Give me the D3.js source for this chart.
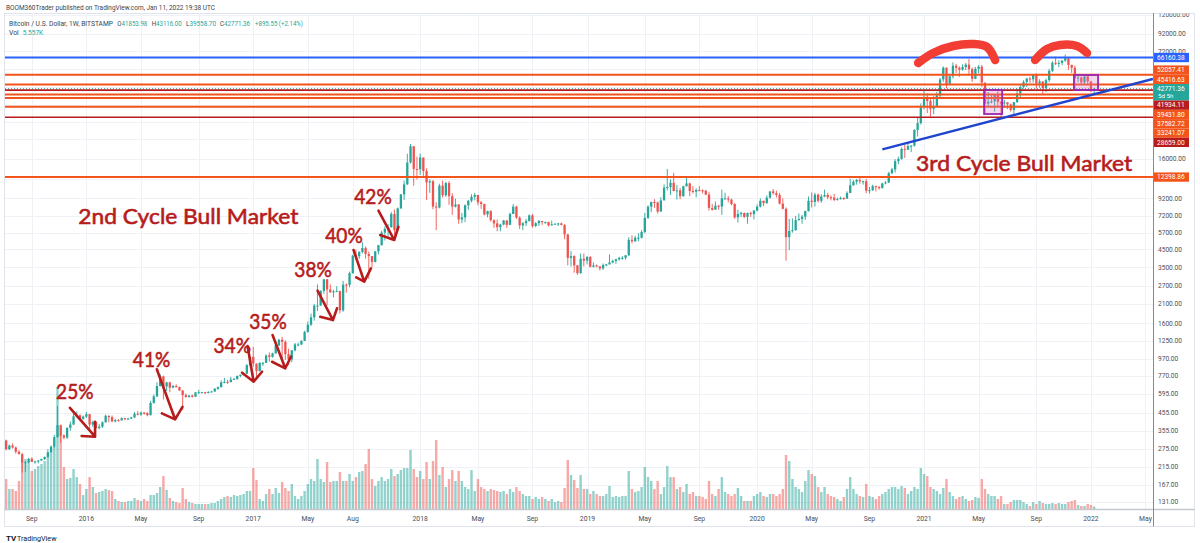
<!DOCTYPE html>
<html>
<head>
<meta charset="utf-8">
<script src="https://cdn.jsdelivr.net/npm/d3@7"></script>
<style>
  body { margin: 0; background: #fff; }
  svg { display: block; }
</style>
</head>
<body>
<div id="chart"></div>
<script>
// BTCUSD weekly (Bitstamp), weeks start on Monday 2015-07-13; open = previous close
const firstWeek = '2015-07-13'
const firstOpen = 310

const closes = [
  // 2015
  274,289,281,265,256,228,229,240,230,231,234,239,246,263,284,325,384,333,323,370,388,435,441,420,433,
  // 2016
  448,387,402,369, 376,400,438,430,405, 412,411,424,420, 421,428,451,445, 458,456,442,525,575, 665,760,660,700,
  650,665,655,625, 585,570,582,572,608, 609,610,603,612, 616,640,655,700,705, 702,728,734,765, 778,790,890,1000,
  // 2017
  910,820,920,920,1020, 1000,1050,1175,1270, 1235,1040,965,1095, 1190,1190,1250,1420, 1570,1740,2050,2050,2520,
  2960,2570,2470,2500, 2510,1920,2750,2740,3230, 4130,4090,4340,4590, 4220,4100,3780,4380, 4780,5700,6000,6150,7400,
  5900,8000,9730,11200, 15200,19100,13900,13850,
  // 2018
  16300,13500,11500,11700,8200, 8100,11000,9600,11400, 9500,8200,8450,6850, 7050,8350,8900,9400,9650, 8700,8500,7350,7700,
  6780,6480,6150,6380, 6750,6350,7400,8200,7030, 6300,6500,6700,7250, 6250,6500,6700,6600, 6600,6300,6400,6450,6480,
  6350,5550,4000,4100, 3600,3230,3950,3850,4050,
  // 2019
  3530,3600,3550,3450, 3620,3650,3750,3830, 3920,4000,4000,4150, 5150,5050,5300,5300,5750, 7000,8200,8750,8700,
  7650,8950,10700,10800, 11450,10200,10300,9500,10900, 11350,10200,10100,10350, 10300,10250,9700,8050,7850,
  8300,8200,9200,9200, 9050,8500,7050,7400, 7500,7100,7500,7400,7760,
  // 2020
  8190,8900,8600,9300, 10150,9900,9650,8550, 7950,5350,5830,5900,6780, 6900,7120,7700,8900, 8750,9700,8900,9450,
  9650,9350,9300,9000,9100, 9250,9170,9930,11050, 11600,11900,11700,11700,10250, 10330,10920,10770,10650,
  11350,11500,13100,13800, 15500,16000,18400,18200,19150, 19250,24000,26400,33000,
  // 2021
  38150,36000,32250,33100, 38900,48700,57400,45200, 50900,59000,57300,55800,57900, 59900,56200,49100,56500,
  58200,46500,34700,35600,35800, 39100,35600,34700,35300, 34300,31800,35400,39900, 43800,47000,49300,48800,51800,
  46000,47300,43200,48200, 54900,61500,60900,61300, 63300,65500,59700,57300,49400, 50100,46700,50800,47300,
  // 2022
  41853.98, 42771.36
]

const highs = [
  // 2015
  314,293,298,285,270,261,232,243,245,234,236,240,248,274,290,335,502,387,338,372,404,465,466,447,440,
  // 2016
  462,450,410,405, 390,405,445,440,440, 420,418,428,424, 425,432,462,468, 465,462,460,540,590, 700,785,770,705,
  705,675,680,660, 625,600,585,590,612, 630,612,612,618, 620,645,660,720,745, 725,755,745,770, 780,795,905,1000,
  // 2017
  1150,910,925,930,1035, 1065,1060,1180,1290, 1325,1260,1120,1100, 1215,1220,1265,1440, 1640,1830,2100,2760,2540,
  2980,2980,2760,2560, 2690,2530,2900,2800,3300, 4180,4480,4400,4980, 4700,4380,4100,4400, 4800,5850,6200,6420,7600,
  7880,8100,9800,11800, 17200,19700,19000,16500,
  // 2018
  17200,16300,14000,12000,11900, 8700,11300,11800,11600, 11700,9900,9170,8500, 7500,8450,9000,9750,9950, 9650,8880,8550,7750,
  7800,6850,6850,6450, 6800,6800,7550,8500,8300, 7150,6600,6900,7350, 7400,6600,6800,6700, 6650,6650,6750,6500,6520,
  6550,6400,5600,4400, 4150,3620,4250,4250,4100,
  // 2019
  4100,3750,3650,3560, 3700,3680,4200,3900, 3950,4060,4100,4150, 5340,5480,5450,5650,5900, 7500,8350,8800,9100,
  8800,9350,11200,13880, 12000,13150,11100,10650,11000, 12300,11450,10950,10600, 10900,10450,10350,10050,8500,
  8800,8400,10400,9950, 9500,9150,8600,7850, 7650,7550,7550,7650,7800,
  // 2020
  8450,9200,8900,9600, 10150,10500,10250,9950, 9200,8100,6900,6950,7200, 7450,7300,7750,9450, 10000,9950,9850,9750,
  10400,9950,9600,9800,9300, 9450,9350,10150,12100, 11900,12100,12500,11800,12100, 10800,11150,10990,10950,
  11450,11720,13350,14100, 15950,16500,18800,19450,19900, 19400,24250,28400,34800,
  // 2021
  42000,40100,37800,38500, 41000,49700,58400,57500, 52600,61800,60600,58400,60100, 61300,64900,57500,58000,
  59500,59600,46600,40800,39500, 39400,41300,35700,36600, 35300,34700,35400,42600, 45300,48100,49800,50500,51900,
  52900,48800,47400,49200, 56500,62900,67000,63700, 63900,69000,66300,59200,59100, 51900,50600,51900,52100,
  // 2022
  47600, 43116
]

const lows = [
  // 2015
  270,272,277,258,255,198,199,225,229,224,225,234,236,244,262,280,322,300,315,316,355,385,428,412,414,
  // 2016
  425,360,375,365, 362,370,398,400,400, 400,405,410,412, 415,419,425,440, 438,445,435,440,520, 570,660,550,620,
  610,645,650,620, 475,565,565,565,570, 595,600,595,600, 608,612,630,650,690, 685,700,725,725, 752,770,788,880,
  // 2017
  870,750,815,880,915, 935,990,1045,1165, 980,960,890,930, 1080,1160,1180,1250, 1400,1540,1660,1900,2050,
  2420,2050,2450,2300, 2480,1840,1880,2460,2650, 3200,3900,3940,4250, 3960,2980,3510,3750, 4200,4750,5100,5400,6100,
  5500,5900,7950,9000, 11100,15000,11000,12000,
  // 2018
  12800,12600,9000,9950,7900, 5900,8000,9300,9400, 8400,7300,8100,6450, 6500,6600,7850,8700,8950, 8350,7950,7250,7050,
  6650,6100,5800,5800, 6300,6100,6350,7400,6900, 6000,5900,6250,6650, 6100,6150,6250,6350, 6450,6200,6350,6400,6250,
  6300,5200,3600,3550, 3250,3150,3200,3550,3650,
  // 2019
  3500,3500,3500,3350, 3380,3560,3650,3700, 3680,3850,3900,3900, 4100,4900,5000,5050,5250, 5650,6900,7600,8050,
  7450,7700,8950,10300, 9650,10150,9050,9100,9400, 10900,9500,9850,9350, 10150,9850,9650,7750,7750,
  7850,7850,7300,9050, 8700,8350,6900,6550, 7100,7000,6450,7100,6850,
  // 2020
  7670,8100,8250,8550, 9150,9700,9300,8450, 7900,3850,4450,5700,5850, 6750,6450,6800,7650, 8100,8200,8700,8650,
  9350,9100,8950,8850,8950, 9050,9000,9150,9900, 11000,11150,11300,11150,9900, 9850,10200,10150,10400,
  10550,11200,11400,12900, 13200,14850,15800,16200,18150, 17600,19000,21900,25900,
  // 2021
  32000,30400,28800,29900, 33450,37900,47000,43000, 45000,49300,53300,50400,55000, 55500,51500,47000,48800,
  53000,43800,30000,33400,34800, 31000,33300,28800,32700, 32100,31000,29300,35200, 37600,42800,43900,46400,46600,
  42800,43400,39600,40800, 46900,53900,59500,57800, 59400,62300,55600,53300,42000, 46700,45600,45600,45700,
  // 2022
  40600, 39558.70
]

// weekly volume, thousand BTC
const volumes = [
  // 2015
  30,20,20,18,28,48,50,48,38,40,43,45,48,52,57,62,122,75,42,30,31,40,32,25,14,
  // 2016
  20,32,22,16, 17,18,20,19,18, 10,8,7,7, 8,8,11,9, 8,10,8,14,14, 16,22,33,19,
  11,8,7,6, 21,10,7,6,5, 5,5,5,5, 6,6,8,10,12, 13,12,14,13, 14,15,18,18,
  // 2017
  41,29,10,8,15, 20,15,21,16, 27,21,18,25, 13,10,13,18, 25,30,28,50,30,
  27,47,27,28, 28,37,28,28,35, 28,32,37,38, 45,60,30,23, 28,32,28,30,40, 33,35,39,41, 41,59,40,32,
  // 2018
  38,30,47,30,48, 69,34,42,22, 30,39,28,38, 28,22,20,39,18, 30,22,20,18,
  20,19,18,17, 18,15,20,17,22, 18,15,13,13, 10,12,10,12, 10,8,10,7,8, 7,21,49,34, 29,21,34,20,20,
  // 2019
  15,18,15,13, 13,15,23,12, 13,12,13,13, 38,20,17,18,22, 42,32,28,20,
  28,15,22,43, 32,32,20,22,17, 25,15,17,13, 13,12,10,28,15, 13,20,32,17, 15,13,15,21, 13,8,8,8,13,
  // 2020
  15,17,13,12, 15,15,13,15, 20,54,48,30,22, 20,17,28,39, 35,33,22,17,
  22,15,13,12,10, 8,12,20,32, 20,15,13,12,25, 13,12,10,13, 15,17,20,22, 22,20,23,21,15, 18,22,20,41,
  // 2021
  35,33,22,20, 18,15,21,30, 17,13,10,12,13, 10,8,9,12, 11,30,20,15,13,
  13,10,13,5, 5,7,9,9, 9,7,5,3,7, 5,8,6,5, 5,6,5,6, 5,5,7,8,9, 4,3,3,5,
  // 2022
  4, 2.5
]

const yTicks = [120000, 92000, 72000, 56000, 44000, 34000, 27000, 21000, 16000, 12000, 9200, 7200, 5700,
  4500, 3500, 2700, 2100, 1600, 1250, 970, 770, 595, 455, 355, 275, 215, 167, 131]

const xTickDates = ['2015-09-07', '2016-01-04', '2016-05-02', '2016-09-05', '2017-01-02', '2017-05-01', '2017-08-07',
  '2018-01-01', '2018-05-07', '2018-09-03', '2019-01-01', '2019-05-06', '2019-09-02', '2020-01-06', '2020-05-04',
  '2020-09-07', '2021-01-04', '2021-05-03', '2021-09-06', '2022-01-03', '2022-05-02']
const xTickLabels = ['Sep', '2016', 'May', 'Sep', '2017', 'May', 'Aug', '2018', 'May', 'Sep', '2019', 'May', 'Sep',
  '2020', 'May', 'Sep', '2021', 'May', 'Sep', '2022', 'May']

// horizontal levels drawn on the chart
const levelPrices = [66160.38, 52057.41, 45416.63, 41934.11, 39431.80, 37582.72, 33241.07, 28659.00, 12398.86]
const levelKinds = ['blue', 'orange', 'orange', 'darkred', 'orange', 'orange', 'orange', 'darkred', 'orange']
const countdown = '5d 5h'

// annotations, [decimal year, price]
const trendLine = [[2020.760, 18290], [2022.376, 49030]]
const topArcs = [
  [[2020.973, 61270], [2021.063, 70480], [2021.182, 77740], [2021.301, 79950], [2021.385, 76660], [2021.433, 63900]],
  [[2021.672, 63900], [2021.743, 74530], [2021.821, 78840], [2021.922, 77740], [2021.982, 70480]]
]
const boxes = [
  [[2021.367, 41980], [2021.475, 29990]],
  [[2021.904, 51790], [2022.048, 41980]]
]
const pctLabels = ['25%', '41%', '34%', '35%', '38%', '40%', '42%']
const pctLabelPos = [[2015.827, 552], [2016.285, 871], [2016.766, 1059], [2016.979, 1476], [2017.248, 3046],
  [2017.433, 4944], [2017.606, 8468]]
// start, tip, two arms of the head
const arrows = [
  [[2015.910, 490], [2016.060, 327], [2015.980, 330], [2016.060, 403]],
  [[2016.428, 840], [2016.537, 417], [2016.458, 453], [2016.581, 497]],
  [[2016.969, 1164], [2017.005, 706], [2016.936, 801], [2017.055, 812]],
  [[2017.118, 1357], [2017.194, 852], [2017.115, 934], [2017.228, 1002]],
  [[2017.387, 2526], [2017.479, 1674], [2017.403, 1753], [2017.503, 1974]],
  [[2017.602, 4465], [2017.666, 2866], [2017.618, 3046], [2017.706, 3455]],
  [[2017.751, 7742], [2017.845, 5137], [2017.761, 5510], [2017.870, 6186]]
]
const cycleLabels = ['2nd Cycle Bull Market', '3rd Cycle Bull Market']
const cycleLabelPos = [[2015.960, 6400], [2020.961, 13550]]

const headerText = 'BOOM360Trader published on TradingView.com, Jan 11, 2022 19:38 UTC'
const symbolText = 'Bitcoin / U.S. Dollar, 1W, BITSTAMP'
const changeText = '+895.55 (+2.14%)'
const volText = '5.557K'

// ---------------------------------------------------------------
const W = 1200, H = 543
const plot = { left: 5, right: 1153, top: 13, bottom: 509 }
const UP = '#26a69a', DOWN = '#ef5350'
const LEVEL_COLORS = { blue: '#2962ff', orange: '#f2541b', darkred: '#b71c1c' }
const NOTE = '#b71c1c'

const parse = d3.utcParse('%Y-%m-%d')
const start = parse(firstWeek)
const candles = closes.map((c, i) => {
    const o = i ? closes[i - 1] : firstOpen
    return {
        date: d3.utcDay.offset(start, 7 * i), o, c,
        h: Math.max(highs[i], o, c), l: Math.min(lows[i], o, c), v: volumes[i]
    }
})
const last = candles[candles.length - 1]

const x = d3.scaleUtc().domain([Date.UTC(2016, 0, 1), Date.UTC(2022, 0, 1)]).range([85, 1090])
const y = d3.scaleLog().domain([131, 120000]).range([502, 15])
const yv = d3.scaleLinear().domain([0, d3.max(volumes)]).range([plot.bottom, plot.bottom - 122])
const yr = v => {
    const y0 = Math.floor(v), a = Date.UTC(y0, 0, 1), b = Date.UTC(y0 + 1, 0, 1)
    return new Date(a + (v - y0) * (b - a))
}
const P = d => [x(yr(d[0])), y(d[1])]

const svg = d3.select('#chart').append('svg')
    .attr('width', W).attr('height', H)
    .style('font-family', 'Roboto, "Liberation Sans", sans-serif')

svg.append('rect').attr('width', W).attr('height', H).attr('fill', '#fff')

svg.append('text').attr('x', 6).attr('y', 9.5)
    .attr('font-size', 7).attr('fill', '#3b3f4a')
    .attr('textLength', 209).attr('lengthAdjust', 'spacingAndGlyphs')
    .text(headerText)

svg.append('rect')
    .attr('x', 4.5).attr('y', 13.5).attr('width', 1190).attr('height', 513)
    .attr('fill', 'none').attr('stroke', '#e0e3eb')

const defs = svg.append('defs')
defs.append('clipPath').attr('id', 'clip').append('rect')
    .attr('x', plot.left).attr('y', plot.top)
    .attr('width', plot.right - plot.left).attr('height', plot.bottom - plot.top)
defs.append('clipPath').attr('id', 'axisclip').append('rect')
    .attr('x', plot.right).attr('y', plot.top + 0.5).attr('width', 45).attr('height', plot.bottom - plot.top)

const g = svg.append('g').attr('clip-path', 'url(#clip)')

// grid
g.selectAll('.hgrid').data(yTicks).enter().append('line').attr('class', 'hgrid')
    .attr('x1', plot.left).attr('x2', plot.right)
    .attr('y1', d => Math.round(y(d)) + 0.5).attr('y2', d => Math.round(y(d)) + 0.5)
    .attr('stroke', '#eef1f6')
g.selectAll('.vgrid').data(xTickDates).enter().append('line').attr('class', 'vgrid')
    .attr('x1', d => Math.round(x(parse(d))) + 0.5).attr('x2', d => Math.round(x(parse(d))) + 0.5)
    .attr('y1', plot.top).attr('y2', plot.bottom)
    .attr('stroke', '#eef1f6')

// volume
g.selectAll('.vol').data(candles).enter().append('rect').attr('class', 'vol')
    .attr('x', d => x(d.date) - 1.2).attr('width', 2.4)
    .attr('y', d => yv(d.v)).attr('height', d => plot.bottom - yv(d.v))
    .attr('fill', d => d.c >= d.o ? 'rgba(38,166,154,0.5)' : 'rgba(239,83,80,0.5)')

// candles
g.selectAll('.wick').data(candles).enter().append('line').attr('class', 'wick')
    .attr('x1', d => x(d.date)).attr('x2', d => x(d.date))
    .attr('y1', d => y(d.h)).attr('y2', d => y(d.l))
    .attr('stroke', d => d.c >= d.o ? UP : DOWN).attr('stroke-width', 0.9)
g.selectAll('.body').data(candles).enter().append('rect').attr('class', 'body')
    .attr('x', d => x(d.date) - 1.15).attr('width', 2.3)
    .attr('y', d => y(Math.max(d.o, d.c)))
    .attr('height', d => Math.max(1, y(Math.min(d.o, d.c)) - y(Math.max(d.o, d.c))))
    .attr('fill', d => d.c >= d.o ? UP : DOWN)

// current price line
g.append('line')
    .attr('x1', plot.left).attr('x2', plot.right)
    .attr('y1', y(last.c)).attr('y2', y(last.c))
    .attr('stroke', UP).attr('stroke-width', 1).attr('stroke-dasharray', '1,2')

// horizontal levels
g.selectAll('.level').data(levelPrices).enter().append('line').attr('class', 'level')
    .attr('x1', plot.left).attr('x2', plot.right)
    .attr('y1', d => y(d)).attr('y2', d => y(d))
    .attr('stroke', (d, i) => LEVEL_COLORS[levelKinds[i]])
    .attr('stroke-width', (d, i) => levelKinds[i] === 'darkred' ? 1.6 : 2)

// trend line
g.append('line')
    .attr('x1', P(trendLine[0])[0]).attr('y1', P(trendLine[0])[1])
    .attr('x2', P(trendLine[1])[0]).attr('y2', P(trendLine[1])[1])
    .attr('stroke', '#1f45cf').attr('stroke-width', 2.4)

// rectangles
g.selectAll('.box').data(boxes).enter().append('rect').attr('class', 'box')
    .attr('x', d => P(d[0])[0]).attr('y', d => P(d[0])[1])
    .attr('width', d => P(d[1])[0] - P(d[0])[0]).attr('height', d => P(d[1])[1] - P(d[0])[1])
    .attr('fill', 'rgba(214,120,200,0.28)').attr('stroke', '#9c27b0').attr('stroke-width', 1.8)

// tops
const arcLine = d3.line().x(d => P(d)[0]).y(d => P(d)[1]).curve(d3.curveCatmullRom)
g.selectAll('.arc').data(topArcs).enter().append('path').attr('class', 'arc')
    .attr('d', arcLine)
    .attr('fill', 'none').attr('stroke', '#f23d35').attr('stroke-width', 8.5)
    .attr('stroke-linecap', 'round')

// arrows
g.selectAll('.arrow').data(arrows).enter().append('path').attr('class', 'arrow')
    .attr('d', d => {
        const [s, t, a, b] = d.map(P)
        return `M${s}L${t}M${a}L${t}L${b}`
    })
    .attr('fill', 'none').attr('stroke', NOTE).attr('stroke-width', 2.6)
    .attr('stroke-linecap', 'round').attr('stroke-linejoin', 'round')

// percent labels
g.selectAll('.pct').data(pctLabels).enter().append('text').attr('class', 'pct')
    .attr('x', (d, i) => P(pctLabelPos[i])[0]).attr('y', (d, i) => P(pctLabelPos[i])[1])
    .attr('font-family', 'Lato, "Open Sans", sans-serif').attr('font-size', 22)
    .attr('fill', NOTE).attr('stroke', NOTE).attr('stroke-width', 0.6)
    .attr('textLength', 37.5).attr('lengthAdjust', 'spacingAndGlyphs')
    .text(d => d)

g.selectAll('.cycle').data(cycleLabels).enter().append('text').attr('class', 'cycle')
    .attr('x', (d, i) => P(cycleLabelPos[i])[0]).attr('y', (d, i) => P(cycleLabelPos[i])[1])
    .attr('font-family', 'Lato, "Open Sans", sans-serif').attr('font-size', 22)
    .attr('fill', NOTE).attr('stroke', NOTE).attr('stroke-width', 0.6)
    .attr('textLength', (d, i) => i ? 216 : 220).attr('lengthAdjust', 'spacingAndGlyphs')
    .text(d => d)

// axes frame
svg.append('line').attr('x1', 4.5).attr('x2', 1194.5).attr('y1', plot.bottom + 0.5).attr('y2', plot.bottom + 0.5)
    .attr('stroke', '#c4c7ce').attr('stroke-width', 1.6)
svg.append('line').attr('x1', plot.right + 0.5).attr('x2', plot.right + 0.5).attr('y1', plot.top).attr('y2', 526.5)
    .attr('stroke', '#868993')

// x labels
svg.selectAll('.xlab').data(xTickDates).enter().append('text').attr('class', 'xlab')
    .attr('x', d => x(parse(d))).attr('y', 520.5)
    .attr('text-anchor', 'middle').attr('font-size', 6.8).attr('fill', '#4a4e59')
    .text((d, i) => xTickLabels[i])

// price labels on the right axis, stacked around the current price label
const LH = 9.3, CUR_H = 16.5
const tags = levelPrices.map((p, i) => ({ p, color: LEVEL_COLORS[levelKinds[i]], cur: false }))
tags.push({ p: last.c, color: UP, cur: true })
tags.sort((a, b) => b.p - a.p)
const ci = tags.findIndex(t => t.cur)
tags[ci].cy = y(last.c)
tags[ci].top = tags[ci].cy - LH / 2
tags[ci].bottom = tags[ci].top + CUR_H
for (let i = ci - 1; i >= 0; i--) {
    const cy = Math.min(y(tags[i].p), tags[i + 1].top - LH / 2)
    Object.assign(tags[i], { cy, top: cy - LH / 2, bottom: cy + LH / 2 })
}
for (let i = ci + 1; i < tags.length; i++) {
    const cy = Math.max(y(tags[i].p), tags[i - 1].bottom + LH / 2)
    Object.assign(tags[i], { cy, top: cy - LH / 2, bottom: cy + LH / 2 })
}

const axisG = svg.append('g').attr('clip-path', 'url(#axisclip)')
const fmt = d3.format('.2f')
axisG.selectAll('.ylab').data(yTicks.filter(t => !tags.some(s => y(t) > s.top && y(t) < s.bottom)))
    .enter().append('text').attr('class', 'ylab')
    .attr('x', 1158).attr('y', d => y(d) + 2.3)
    .attr('font-size', 6.6).attr('fill', '#4a4e59')
    .text(d => fmt(d))

const tagG = axisG.selectAll('.tag').data(tags).enter().append('g').attr('class', 'tag')
tagG.append('rect')
    .attr('x', plot.right + 1).attr('width', 35)
    .attr('y', d => d.top).attr('height', d => d.bottom - d.top)
    .attr('fill', d => d.color)
tagG.append('text')
    .attr('x', 1157).attr('y', d => d.cy + 2.3)
    .attr('font-size', 6.6).attr('fill', '#fff')
    .text(d => fmt(d.p))
tagG.filter(d => d.cur).append('text')
    .attr('x', 1158).attr('y', d => d.cy + 9.6)
    .attr('font-size', 6.2).attr('fill', '#fff')
    .text(countdown)

// legend
const lg = svg.append('g').attr('font-size', 6.8)
lg.append('text').attr('x', 9).attr('y', 25.5).attr('fill', '#3b3f4a')
    .attr('textLength', 104).attr('lengthAdjust', 'spacingAndGlyphs').text(symbolText)
const ohlc = [['O', last.o, 117.3], ['H', last.h, 151.7], ['L', last.l, 186], ['C', last.c, 220]]
ohlc.forEach(([k, v, px]) => {
    const t = lg.append('text').attr('x', px).attr('y', 25.5)
        .attr('textLength', 30).attr('lengthAdjust', 'spacingAndGlyphs')
    t.append('tspan').attr('fill', '#3b3f4a').text(k)
    t.append('tspan').attr('fill', UP).text(fmt(v))
})
lg.append('text').attr('x', 255).attr('y', 25.5).attr('fill', UP)
    .attr('textLength', 48).attr('lengthAdjust', 'spacingAndGlyphs').text(changeText)
lg.append('text').attr('x', 9).attr('y', 34.5).attr('fill', '#3b3f4a').text('Vol')
lg.append('text').attr('x', 22.7).attr('y', 34.5).attr('fill', UP)
    .attr('textLength', 20.5).attr('lengthAdjust', 'spacingAndGlyphs').text(volText)

// footer logo
svg.append('text').attr('x', 6).attr('y', 541).attr('font-size', 8).attr('font-weight', 700)
    .attr('fill', '#131722').text('TV')
svg.append('text').attr('x', 17).attr('y', 541).attr('font-size', 7.2)
    .attr('fill', '#131722').text('TradingView')
</script>
</body>
</html>
